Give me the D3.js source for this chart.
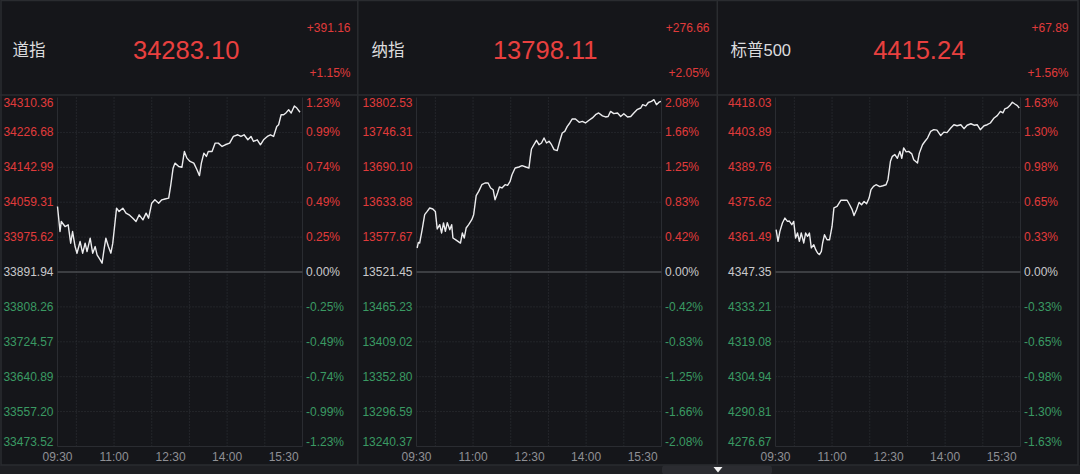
<!DOCTYPE html>
<html><head><meta charset="utf-8">
<script src="https://cdn.jsdelivr.net/npm/d3@7"></script>
<style>
html,body{margin:0;padding:0;background:#15161a;overflow:hidden;}
svg{display:block;font-family:"Liberation Sans","Helvetica Neue",Arial,"Noto Sans CJK SC",sans-serif;}
</style>
</head><body><svg id="c" width="1080" height="474"></svg>
<script>
// ---------- DATA ----------
const indexNames = ["道指", "纳指", "标普500"];
const lastValues = ["34283.10", "13798.11", "4415.24"];
const changeValues = ["+391.16", "+276.66", "+67.89"];
const changePcts = ["+1.15%", "+2.05%", "+1.56%"];

const timeTickLabels = ["09:30", "11:00", "12:30", "14:00", "15:30"];
const timeTickMinutes = [0, 90, 180, 270, 360];
const gridMinutes = [30, 90, 150, 210, 270, 330];

const dowLeftTicks = ["34310.36","34226.68","34142.99","34059.31","33975.62","33891.94","33808.26","33724.57","33640.89","33557.20","33473.52"];
const dowPctTicks = ["1.23%","0.99%","0.74%","0.49%","0.25%","0.00%","-0.25%","-0.49%","-0.74%","-0.99%","-1.23%"];
const nasLeftTicks = ["13802.53","13746.31","13690.10","13633.88","13577.67","13521.45","13465.23","13409.02","13352.80","13296.59","13240.37"];
const nasPctTicks = ["2.08%","1.66%","1.25%","0.83%","0.42%","0.00%","-0.42%","-0.83%","-1.25%","-1.66%","-2.08%"];
const spxLeftTicks = ["4418.03","4403.89","4389.76","4375.62","4361.49","4347.35","4333.21","4319.08","4304.94","4290.81","4276.67"];
const spxPctTicks = ["1.63%","1.30%","0.98%","0.65%","0.33%","0.00%","-0.33%","-0.65%","-0.98%","-1.30%","-1.63%"];

// minutes after 09:30
const dowTimes = [0,4,6,12,17,21,24,28,31,36,40,44,47,52,56,60,63,68,71,74,77,81,85,88,90,94,98,104,109,114,120,125,130,136,141,145,150,155,161,166,171,177,180,184,187,193,198,202,206,211,217,222,226,229,233,237,240,246,251,256,262,267,274,280,287,292,297,303,308,312,318,323,328,334,339,344,349,352,356,360,364,368,372,377,381,386];
const dowValues = [34049,33989,34013,34001,34005,33961,33989,33953,33937,33965,33937,33961,33941,33973,33937,33953,33933,33921,33913,33945,33973,33953,33937,33961,33989,34045,34037,34045,34033,34029,34021,34013,34029,34017,34033,34021,34057,34065,34057,34065,34067,34069,34097,34141,34153,34145,34143,34181,34165,34157,34153,34137,34123,34153,34177,34169,34181,34181,34201,34201,34193,34197,34201,34217,34221,34217,34221,34209,34217,34205,34209,34197,34209,34217,34221,34217,34241,34245,34269,34269,34274,34281,34273,34290,34285,34275];

const nasTimes = [1,3,5,9,13,17,21,26,30,33,37,40,43,46,49,53,56,58,62,66,70,73,76,79,83,88,91,95,99,104,109,114,118,122,125,129,132,136,141,145,149,152,157,163,168,174,179,181,183,187,191,195,199,203,207,211,215,219,224,228,232,236,240,244,248,253,259,264,269,274,280,285,290,296,301,305,309,314,320,325,330,336,341,346,351,357,360,365,369,374,378,382,386,389];
const nasValues = [13560.1,13569.1,13568,13589.6,13613.8,13619,13624.5,13623,13619,13590.7,13597.7,13584.3,13600.4,13586.9,13601,13589.6,13597.7,13576.2,13573.5,13570.7,13568,13584.3,13576,13592.3,13597.7,13605.7,13613.8,13644.4,13651.3,13662.1,13664.8,13664.8,13656.8,13654,13637.9,13648.7,13658.4,13656.8,13662.1,13661,13667.4,13678.2,13689,13690.6,13692.7,13690.6,13689,13705.1,13719.6,13726.5,13733.5,13726.5,13729.3,13737.3,13729.3,13732,13726.5,13718.5,13717,13732,13745.4,13748,13756,13761.5,13768,13768,13762.5,13764,13761.5,13765.5,13769.6,13774.9,13777.6,13773,13771.2,13772,13780.2,13776.5,13777.6,13772,13776.5,13771.2,13772,13777.6,13782.9,13785.6,13791,13789,13794.5,13796.3,13799,13791,13795,13796.3];

const spxTimes = [1,4,7,11,15,19,22,26,29,32,35,38,41,45,48,51,54,57,61,64,67,70,73,75,78,82,86,90,93,98,104,109,114,118,122,125,129,133,137,141,145,149,152,156,160,166,171,176,179,183,186,190,194,198,201,204,208,212,217,220,226,229,234,238,242,247,252,257,263,268,273,279,284,289,295,300,305,311,316,321,326,332,337,342,348,353,358,362,365,369,373,377,381,385,388];
const spxValues = [4364.5,4359.75,4363.8,4367.2,4369.2,4367.85,4368,4366.5,4367.85,4361.1,4363.15,4359.75,4363.15,4359.1,4363.15,4361.8,4363.15,4357.1,4358.4,4356.4,4355.05,4354.4,4355.7,4359.1,4362.45,4360.4,4360.4,4365.8,4373.3,4373.9,4376.4,4376.4,4376.4,4374.6,4372.6,4370.2,4372.6,4375.55,4374.6,4375.9,4375,4377.3,4380.7,4382.05,4382.7,4381.95,4382.3,4382.7,4384.75,4392.2,4394.2,4394.9,4393.4,4396.2,4393.4,4397.6,4396,4396.2,4395.2,4392.85,4391.5,4395.5,4398.9,4400.3,4401.6,4404.3,4405,4404.8,4402.6,4404,4403.8,4405.7,4407,4406.6,4407,4405.4,4406.8,4407.4,4406.8,4407,4405,4406.6,4407,4407.7,4409.75,4410.7,4412.4,4411.8,4413.4,4413.8,4414.75,4416.1,4415.4,4414.75,4413.8];

// ---------- LAYOUT ----------
const W = 1080, H = 474;
const RED = "#e03b3b", GREEN = "#3a9a63", ZERO = "#c9c9cb", TIMEC = "#8f9095";
const panelX = [0, 359, 718];
const plotOff = 57.5, plotW = 245, plotTop = 97.5, plotBot = 446.5;

const panels = [
  {times: dowTimes, values: dowValues, left: dowLeftTicks, pct: dowPctTicks},
  {times: nasTimes, values: nasValues, left: nasLeftTicks, pct: nasPctTicks},
  {times: spxTimes, values: spxValues, left: spxLeftTicks, pct: spxPctTicks}
];

const svg = d3.select("#c");
svg.append("rect").attr("width", W).attr("height", H).attr("fill", "#15161a");

// bottom strip
svg.append("rect").attr("x", 0).attr("y", 465).attr("width", W).attr("height", 9).attr("fill", "#1e1f23");
svg.append("rect").attr("x", 662).attr("y", 465.5).attr("width", 110).attr("height", 9).attr("rx", 3).attr("fill", "#2b2c31");
svg.append("path").attr("d", "M713.5,467 L722.5,467 L718,472.5 Z").attr("fill", "#f2f2f2");

// frame and separators
const sep = "#2a2c30";
svg.append("rect").attr("x", 1).attr("y", 0.5).attr("width", 1077).attr("height", 464.5)
  .attr("fill", "none").attr("stroke", sep).attr("stroke-width", 1.5);
svg.append("line").attr("x1", 0).attr("x2", W).attr("y1", 95).attr("y2", 95).attr("stroke", sep).attr("stroke-width", 1.5);
[357.8, 717.3].forEach(x => svg.append("line").attr("x1", x).attr("x2", x).attr("y1", 0).attr("y2", 465)
  .attr("stroke", sep).attr("stroke-width", 1.5));

panels.forEach((p, i) => {
  const x0 = panelX[i];
  const g = svg.append("g").attr("transform", `translate(${x0},0)`);

  // header
  const nm = g.append("text").attr("x", 12.5).attr("y", 50).attr("dominant-baseline", "central")
    .attr("fill", "#dcdcde").attr("font-size", 16.5).text(indexNames[i]);
  const c1 = g.append("text").attr("x", 350.5).attr("y", 27.5).attr("text-anchor", "end")
    .attr("dominant-baseline", "central").attr("fill", RED).attr("font-size", 12).text(changeValues[i]);
  const c2 = g.append("text").attr("x", 350.5).attr("y", 72.5).attr("text-anchor", "end")
    .attr("dominant-baseline", "central").attr("fill", RED).attr("font-size", 12).text(changePcts[i]);
  const nameEnd = 12.5 + nm.node().getComputedTextLength();
  const chStart = 350.5 - Math.max(c1.node().getComputedTextLength(), c2.node().getComputedTextLength());
  g.append("text").attr("x", (nameEnd + chStart) / 2 + 10).attr("y", 50).attr("text-anchor", "middle")
    .attr("dominant-baseline", "central").attr("fill", "#e8403f").attr("font-size", 25.5).text(lastValues[i]);

  // scales
  const ticksNum = p.left.map(Number);
  const x = d3.scaleLinear().domain([0, 390]).range([plotOff, plotOff + plotW]);
  const y = d3.scaleLinear().domain([ticksNum[10], ticksNum[0]]).range([plotBot, plotTop]);

  // grid
  const grid = g.append("g");
  grid.selectAll("line.h").data(ticksNum.filter((d, k) => k !== 5 && k !== 10 && k !== 0)).join("line")
    .attr("x1", x(0)).attr("x2", x(390)).attr("y1", d => y(d)).attr("y2", d => y(d))
    .attr("stroke", "#33353a").attr("stroke-width", 1).attr("stroke-dasharray", "1,2");
  grid.selectAll("line.v").data(gridMinutes).join("line")
    .attr("x1", d => x(d)).attr("x2", d => x(d)).attr("y1", plotTop).attr("y2", plotBot)
    .attr("stroke", "#33353a").attr("stroke-width", 1).attr("stroke-dasharray", "1,2");
  // plot border (left/right/bottom)
  g.append("path")
    .attr("d", `M${x(0)},${plotTop} V${plotBot} H${x(390)} V${plotTop}`)
    .attr("fill", "none").attr("stroke", "#2a2c31").attr("stroke-width", 1);
  // zero line
  g.append("line").attr("x1", x(0)).attr("x2", x(390)).attr("y1", y(ticksNum[5])).attr("y2", y(ticksNum[5]))
    .attr("stroke", "#4a4c51").attr("stroke-width", 1.6);

  const colorFor = k => k < 5 ? RED : (k === 5 ? ZERO : GREEN);
  const yLab = (d, k) => y(d) + (k === 0 ? 5.5 : (k === 10 ? -5 : 0));

  // left labels
  g.selectAll("text.l").data(ticksNum).join("text")
    .attr("x", x(0) - 4).attr("y", (d, k) => yLab(d, k))
    .attr("text-anchor", "end").attr("dominant-baseline", "central")
    .attr("font-size", 12).attr("fill", (d, k) => colorFor(k))
    .text((d, k) => p.left[k]);
  // right labels
  g.selectAll("text.r").data(ticksNum).join("text")
    .attr("x", x(390) + 3.5).attr("y", (d, k) => yLab(d, k))
    .attr("text-anchor", "start").attr("dominant-baseline", "central")
    .attr("font-size", 12).attr("fill", (d, k) => colorFor(k))
    .text((d, k) => p.pct[k]);
  // time labels
  g.selectAll("text.t").data(timeTickMinutes).join("text")
    .attr("x", d => x(d)).attr("y", 456.5).attr("text-anchor", "middle").attr("dominant-baseline", "central")
    .attr("font-size", 12).attr("fill", TIMEC)
    .text((d, k) => timeTickLabels[k]);

  // price line
  const pts = p.times.map((t, k) => [t, p.values[k]]);
  g.append("path").datum(pts)
    .attr("d", d3.line().x(d => x(d[0])).y(d => y(d[1])))
    .attr("fill", "none").attr("stroke", "#ececee").attr("stroke-width", 1.4)
    .attr("stroke-linejoin", "round");
});
</script>
</body></html>
